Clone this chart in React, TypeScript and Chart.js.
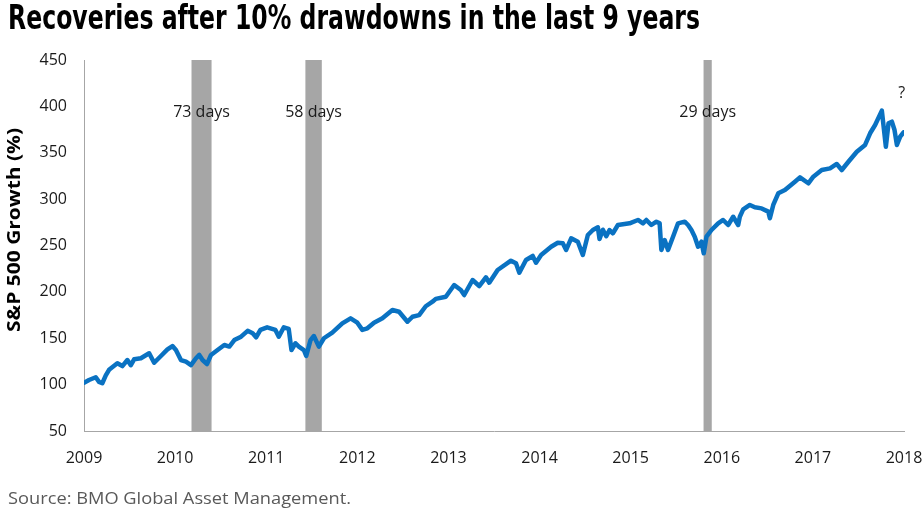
import React, { useEffect, useRef } from "react";
import { Chart, registerables } from "chart.js";

Chart.register(...registerables);

const TITLE = "Recoveries after 10% drawdowns in the last 9 years";
const SOURCE = "Source: BMO Global Asset Management.";
const Y_TITLE = "S&P 500 Growth (%)";

const yearTicks = [2009, 2010, 2011, 2012, 2013, 2014, 2015, 2016, 2017, 2018];
const growthTicks = [50, 100, 150, 200, 250, 300, 350, 400, 450];

// drawdown recovery windows (decimal years)
const windowStart = [2010.18, 2011.43, 2015.8];
const windowEnd = [2010.4, 2011.61, 2015.89];
const windowLabels = ["73 days", "58 days", "29 days"];

const dates = [
  2009.0, 2009.055, 2009.129, 2009.165, 2009.201, 2009.239, 2009.275, 2009.366, 2009.421, 2009.476,
  2009.514, 2009.55, 2009.624, 2009.715, 2009.77, 2009.844, 2009.916, 2009.971, 2010.009, 2010.064,
  2010.119, 2010.174, 2010.229, 2010.265, 2010.301, 2010.35, 2010.394, 2010.466, 2010.54, 2010.595,
  2010.65, 2010.724, 2010.796, 2010.851, 2010.889, 2010.936, 2011.01, 2011.101, 2011.138, 2011.193,
  2011.247, 2011.277, 2011.321, 2011.358, 2011.413, 2011.439, 2011.486, 2011.523, 2011.578, 2011.633,
  2011.725, 2011.835, 2011.926, 2012.0, 2012.055, 2012.11, 2012.183, 2012.275, 2012.385, 2012.458,
  2012.55, 2012.605, 2012.678, 2012.751, 2012.825, 2012.861, 2012.971, 2013.063, 2013.136, 2013.173,
  2013.265, 2013.338, 2013.411, 2013.448, 2013.54, 2013.686, 2013.741, 2013.778, 2013.851, 2013.925,
  2013.961, 2014.017, 2014.127, 2014.2, 2014.255, 2014.292, 2014.347, 2014.42, 2014.475, 2014.53,
  2014.585, 2014.64, 2014.658, 2014.695, 2014.732, 2014.768, 2014.805, 2014.86, 2014.988, 2015.08,
  2015.135, 2015.172, 2015.227, 2015.282, 2015.318, 2015.337, 2015.373, 2015.41, 2015.465, 2015.52,
  2015.593, 2015.63, 2015.667, 2015.703, 2015.74, 2015.777, 2015.802, 2015.832, 2015.887, 2015.96,
  2016.015, 2016.07, 2016.125, 2016.18, 2016.198, 2016.235, 2016.308, 2016.363, 2016.437, 2016.51,
  2016.528, 2016.565, 2016.62, 2016.693, 2016.803, 2016.858, 2016.95, 2017.005, 2017.097, 2017.188,
  2017.262, 2017.317, 2017.39, 2017.482, 2017.573, 2017.628, 2017.683, 2017.757, 2017.801, 2017.83,
  2017.867, 2017.896, 2017.922, 2017.958, 2017.995,
];

const growth = [
  102, 105, 108, 103, 101.5, 110, 116, 123, 120, 126.5,
  121, 127.3, 128.4, 133.8, 123.6, 130.9, 138, 141.6, 137.3, 126.5,
  124.7, 121, 128.4, 132, 126.5, 122.2, 132, 137.3, 142.7, 141,
  148, 151.7, 158, 155.3, 151, 159, 161.8, 159, 151.7, 161.8,
  160, 137.3, 144.6, 141, 137.3, 130.9, 148, 152.4, 141, 150,
  156, 166, 171.5, 166.8, 159, 160.7, 166.8, 171.5, 180.5, 178.6,
  167.8, 173.2, 175, 184.5, 189.4, 192.5, 194.8, 207.4, 202, 196.6,
  212.8, 206.3, 215.7, 209.9, 223.6, 233.6, 230.8, 220.7, 234.4, 238.7,
  231.5, 239.8, 248.7, 253, 252.4, 245.2, 257.8, 254.1, 239.8, 261.3,
  266.7, 269.6, 257, 267, 260, 266.7, 263.2, 272.1, 273.9, 277.5,
  273.9, 277.5, 272.1, 275.7, 273.9, 245.2, 255.9, 245.2, 259.5, 273.9,
  275.7, 272.1, 266.7, 259.5, 248.7, 254.1, 241.6, 259.5, 266.7, 273.9,
  277.5, 272.1, 281, 272.1, 281, 289, 293.7, 291.2, 290, 286.5,
  279.3, 293.7, 306.3, 309.8, 318.8, 323.5, 317.1, 324.2, 331.4, 333.2,
  337.9, 331.4, 340.3, 351.1, 358.4, 371, 379.9, 395.4, 356.5, 381.8,
  383.5, 374.5, 358.4, 367.3, 372,
];

const labelLevel = 393; // y-value where window labels sit
const questionAt = { x: 2017.976, y: 414 };

const FONT = '"Open Sans", "DejaVu Sans", sans-serif';

const overlayPlugin = {
  id: "overlay",
  beforeDatasetsDraw(chart: any) {
    const { ctx, chartArea, scales } = chart;
    const xs = scales.x;
    ctx.save();
    ctx.fillStyle = "#a6a6a6";
    for (let i = 0; i < windowStart.length; i++) {
      const x1 = xs.getPixelForValue(windowStart[i]);
      const x2 = xs.getPixelForValue(windowEnd[i]);
      ctx.fillRect(x1, chartArea.top, x2 - x1, chartArea.bottom - chartArea.top);
    }
    ctx.restore();
  },
  afterDatasetsDraw(chart: any) {
    const { ctx, scales } = chart;
    const xs = scales.x;
    const ys = scales.y;
    ctx.save();
    ctx.fillStyle = "#1a1a1a";
    ctx.font = "16px " + FONT;
    ctx.textAlign = "center";
    ctx.textBaseline = "middle";
    for (let i = 0; i < windowStart.length; i++) {
      const cx = xs.getPixelForValue((windowStart[i] + windowEnd[i]) / 2);
      ctx.fillText(windowLabels[i], cx, ys.getPixelForValue(labelLevel));
    }
    ctx.fillText("?", xs.getPixelForValue(questionAt.x), ys.getPixelForValue(questionAt.y));
    ctx.restore();
  },
  afterDraw(chart: any) {
    const { ctx } = chart;
    ctx.save();
    // Title
    ctx.fillStyle = "#000000";
    ctx.font = 'bold 33px "Liberation Sans Narrow", "DejaVu Sans Condensed", "DejaVu Sans", sans-serif';
    ctx.textAlign = "left";
    ctx.textBaseline = "alphabetic";
    const tw = ctx.measureText(TITLE).width;
    ctx.save();
    ctx.translate(8, 29);
    ctx.scale(692 / tw, 1);
    ctx.fillText(TITLE, 0, 0);
    ctx.restore();

    // Source
    ctx.fillStyle = "#595959";
    ctx.font = "16px " + FONT;
    const sw = ctx.measureText(SOURCE).width;
    ctx.save();
    ctx.translate(8, 504);
    ctx.scale(343 / sw, 1);
    ctx.fillText(SOURCE, 0, 0);
    ctx.restore();

    // Y axis title
    ctx.fillStyle = "#000000";
    ctx.font = "bold 17px " + FONT;
    ctx.textAlign = "center";
    ctx.textBaseline = "middle";
    const yw = ctx.measureText(Y_TITLE).width;
    ctx.save();
    ctx.translate(15, 230);
    ctx.rotate(-Math.PI / 2);
    ctx.scale(204 / yw, 1);
    ctx.fillText(Y_TITLE, 0, 0);
    ctx.restore();
    ctx.restore();
  },
};

export default function App() {
  const ref = useRef<HTMLCanvasElement | null>(null);

  useEffect(() => {
    if (!ref.current) return;
    const chart = new Chart(ref.current, {
      type: "line",
      data: {
        datasets: [
          {
            label: "S&P 500",
            data: dates.map((d, i) => ({ x: d, y: growth[i] })),
            borderColor: "#0a72c2",
            borderWidth: 4.5,
            pointRadius: 0,
            tension: 0,
            fill: false,
            borderJoinStyle: "round",
            borderCapStyle: "round",
          },
        ],
      },
      options: {
        animation: false,
        responsive: false,
        maintainAspectRatio: false,
        devicePixelRatio: 1,
        layout: { padding: { top: 60, right: 20, bottom: 0, left: 0 } },
        plugins: {
          legend: { display: false },
          tooltip: { enabled: false },
          title: { display: false },
        },
        scales: {
          x: {
            type: "linear",
            min: 2009,
            max: 2018,
            afterFit: (s: any) => {
              s.height = 87;
              s.paddingLeft = 0;
              s.paddingRight = 0;
            },
            afterBuildTicks: (s: any) => {
              s.ticks = yearTicks.map((v) => ({ value: v }));
            },
            grid: { display: false, drawTicks: false },
            border: { display: true, color: "#a6a6a6", width: 1 },
            ticks: {
              padding: 18,
              color: "#1a1a1a",
              font: { family: FONT, size: 16 },
              maxRotation: 0,
              autoSkip: false,
              callback: (v: any) => String(v),
            },
          },
          y: {
            type: "linear",
            min: 50,
            max: 450,
            afterFit: (s: any) => {
              s.width = 84;
              s.paddingTop = 0;
              s.paddingBottom = 0;
            },
            afterBuildTicks: (s: any) => {
              s.ticks = growthTicks.map((v) => ({ value: v }));
            },
            grid: { display: false, drawTicks: false },
            border: { display: true, color: "#a6a6a6", width: 1 },
            ticks: {
              padding: 17,
              color: "#1a1a1a",
              font: { family: FONT, size: 16 },
              callback: (v: any) => String(v),
            },
          },
        },
      },
      plugins: [overlayPlugin],
    });
    return () => chart.destroy();
  }, []);

  return (
    <div style={{ position: "absolute", left: 0, top: 0, width: 924, height: 518, background: "#ffffff" }}>
      <canvas ref={ref} width={924} height={518} style={{ width: 924, height: 518, display: "block" }} />
    </div>
  );
}
